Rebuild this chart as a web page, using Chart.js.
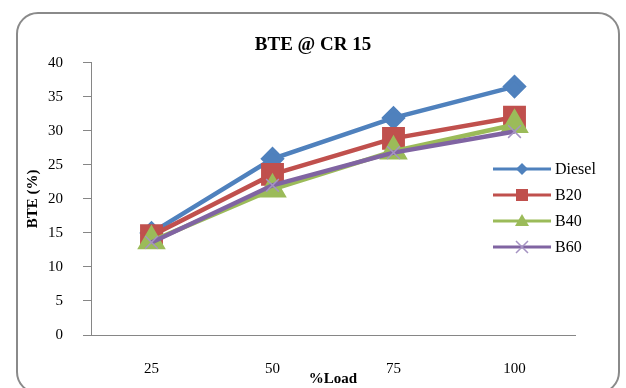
<!DOCTYPE html>
<html>
<head>
<meta charset="utf-8">
<script src="https://cdn.jsdelivr.net/npm/chart.js@4/dist/chart.umd.min.js"></script>
<style>
  body { margin: 0; background: #fff; }
  #frame {
    position: absolute; left: 16px; top: 12px; width: 604px; height: 382px;
    box-sizing: border-box; border: 2px solid #8a8a8a; border-radius: 22px;
  }
  #chart { position: absolute; left: 0; top: 0; }
</style>
</head>
<body>
<div id="frame"></div>
<canvas id="chart" width="626" height="388"></canvas>
<script>
// Data
const loads = ['25', '50', '75', '100'];
const diesel = [15.0, 25.9, 31.9, 36.5];
const b20 = [14.6, 23.6, 28.9, 32.0];
const b40 = [13.8, 21.4, 27.0, 30.9];
const b60 = [13.6, 22.0, 26.8, 29.9];
const seriesNames = ['Diesel', 'B20', 'B40', 'B60'];

const serif = "'Liberation Serif', 'Times New Roman', serif";

// Legend drawn inside the plot, on the right, like the original
const insideLegend = {
    id: 'insideLegend',
    afterDatasetsDraw(chart) {
        const ctx = chart.ctx;
        const x0 = 493, x1 = 551, rowY = [169, 195, 221, 247];
        chart.data.datasets.forEach((ds, i) => {
            const y = rowY[i];
            const mx = (x0 + x1) / 2;
            ctx.save();
            ctx.strokeStyle = ds.borderColor;
            ctx.lineWidth = 3;
            ctx.beginPath();
            ctx.moveTo(x0, y);
            ctx.lineTo(x1, y);
            ctx.stroke();
            ctx.fillStyle = ds.pointBackgroundColor;
            ctx.strokeStyle = ds.pointBorderColor;
            ctx.lineWidth = 1.5;
            ctx.beginPath();
            if (ds.pointStyle === 'rectRot') {
                ctx.moveTo(mx, y - 6); ctx.lineTo(mx + 6, y); ctx.lineTo(mx, y + 6); ctx.lineTo(mx - 6, y);
                ctx.closePath(); ctx.fill();
            } else if (ds.pointStyle === 'rect') {
                ctx.rect(mx - 6, y - 6, 12, 12); ctx.fill();
            } else if (ds.pointStyle === 'triangle') {
                ctx.moveTo(mx, y - 7); ctx.lineTo(mx + 7, y + 5); ctx.lineTo(mx - 7, y + 5);
                ctx.closePath(); ctx.fill();
            } else {
                ctx.moveTo(mx - 6, y - 6); ctx.lineTo(mx + 6, y + 6);
                ctx.moveTo(mx + 6, y - 6); ctx.lineTo(mx - 6, y + 6);
                ctx.stroke();
            }
            ctx.fillStyle = '#000';
            ctx.font = '16px ' + serif;
            ctx.textBaseline = 'middle';
            ctx.textAlign = 'left';
            ctx.fillText(seriesNames[i], 555, y + 1);
            ctx.restore();
        });
    }
};

new Chart(document.getElementById('chart'), {
    type: 'line',
    data: {
        labels: loads,
        datasets: [
            {
                label: seriesNames[0], data: diesel, order: 4,
                borderColor: '#4F81BD', pointBackgroundColor: '#4F81BD', pointBorderColor: '#4F81BD',
                pointStyle: 'rectRot', pointRadius: 9
            },
            {
                label: seriesNames[1], data: b20, order: 3,
                borderColor: '#C0504D', pointBackgroundColor: '#C0504D', pointBorderColor: '#C0504D',
                pointStyle: 'rect', pointRadius: 13
            },
            {
                label: seriesNames[2], data: b40, order: 2,
                borderColor: '#9BBB59', pointBackgroundColor: '#9BBB59', pointBorderColor: '#9BBB59',
                pointStyle: 'triangle', pointRadius: 12
            },
            {
                label: seriesNames[3], data: b60, order: 1,
                borderColor: '#8064A2', pointBackgroundColor: '#8064A2', pointBorderColor: '#A593C2',
                pointStyle: 'crossRot', pointRadius: 9, pointBorderWidth: 1.5
            }
        ].map(ds => Object.assign({ borderWidth: 4.5, fill: false, tension: 0 }, ds))
    },
    options: {
        responsive: false,
        animation: false,
        layout: { padding: 0 },
        plugins: {
            legend: { display: false },
            tooltip: { enabled: false },
            title: {
                display: true,
                text: 'BTE @ CR 15',
                color: '#000',
                font: { family: serif, size: 19, weight: 'bold' },
                padding: { top: 34, bottom: 6 }
            }
        },
        scales: {
            x: {
                offset: true,
                grid: { display: false },
                border: { display: true, color: '#868686', width: 1 },
                ticks: { color: '#000', font: { family: serif, size: 15 }, padding: 17 },
                title: {
                    display: true, text: '%Load', color: '#000',
                    font: { family: serif, size: 15, weight: 'bold' },
                    padding: { top: 0, bottom: 0 }
                },
                afterFit(scale) { scale.height = 53; }
            },
            y: {
                min: 0, max: 40,
                ticks: { stepSize: 5, color: '#000', font: { family: serif, size: 15 }, padding: 20 },
                grid: { drawOnChartArea: false, drawTicks: true, tickLength: 8, color: '#868686' },
                border: { display: true, color: '#868686', width: 1 },
                title: {
                    display: true, text: 'BTE (%)', color: '#000',
                    font: { family: serif, size: 15, weight: 'bold' },
                    padding: { top: 24, bottom: 0 }
                },
                afterFit(scale) { scale.width = 91; }
            },
            // empty right-hand axis that only reserves the space the legend sits in
            spacer: {
                type: 'linear',
                position: 'right',
                display: true,
                grid: { display: false },
                border: { display: false },
                ticks: { display: false },
                afterFit(scale) { scale.width = 51; }
            }
        }
    },
    plugins: [insideLegend]
});
</script>
</body>
</html>
